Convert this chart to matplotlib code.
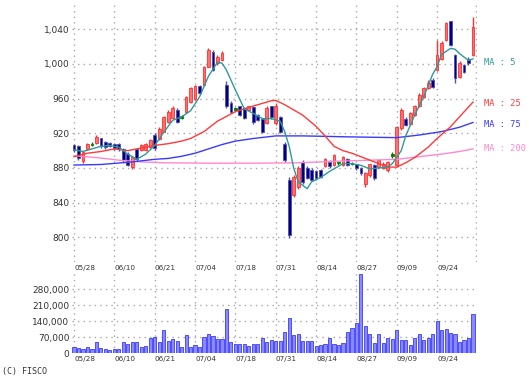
import matplotlib
matplotlib.use("Agg")
import matplotlib.pyplot as plt
import numpy as np

# ---------------- data ----------------
date_labels = ["05/28", "06/10", "06/21", "07/04", "07/18", "07/31", "08/14", "08/27", "09/09", "09/24"]
date_label_idx = [0, 9, 18, 27, 36, 45, 54, 63, 72, 81]

opens = [906, 905, 888, 902, 907, 909, 914, 910, 909, 908,
         908, 902, 896, 881, 902, 901, 901, 904, 918, 914,
         922, 933, 938, 947, 939, 945, 956, 960, 974, 976,
         997, 1014, 1001, 1005, 976, 955, 948, 951, 949, 947,
         950, 941, 936, 932, 951, 932, 939, 908, 866, 849,
         858, 887, 880, 878, 876, 878, 882, 887, 884, 886,
         884, 890, 885, 884, 880, 862, 872, 884, 881, 880,
         878, 895, 884, 926, 937, 931, 941, 951, 962, 972,
         982, 993, 1006, 1028, 1049, 1010, 985, 999, 1006, 1010]
highs = [908, 906, 899, 909, 910, 918, 915, 911, 910, 909,
         909, 903, 898, 894, 903, 908, 909, 913, 920, 927,
         940, 947, 951, 949, 941, 963, 974, 976, 976, 998,
         1018, 1016, 1010, 1015, 980, 957, 950, 952, 950, 952,
         952, 942, 937, 951, 952, 955, 940, 910, 870, 872,
         882, 889, 882, 880, 878, 879, 892, 889, 896, 888,
         894, 891, 887, 885, 881, 875, 885, 885, 890, 887,
         888, 899, 929, 949, 939, 945, 953, 966, 974, 981,
         984, 1028, 1026, 1049, 1050, 1011, 1003, 1000, 1008, 1054]
lows = [899, 889, 886, 901, 905, 908, 903, 902, 904, 901,
        900, 887, 882, 879, 888, 900, 900, 903, 901, 912,
        921, 932, 936, 932, 937, 944, 955, 958, 965, 975,
        996, 992, 999, 1003, 949, 943, 946, 940, 936, 946,
        931, 934, 920, 931, 937, 930, 920, 887, 799, 847,
        856, 862, 867, 865, 866, 868, 881, 880, 882, 884,
        882, 882, 883, 878, 872, 858, 870, 866, 880, 879,
        875, 892, 882, 924, 928, 930, 940, 950, 961, 971,
        972, 992, 1005, 1026, 1021, 978, 984, 990, 999, 1009]
closes = [901, 891, 898, 908, 907, 916, 905, 904, 905, 903,
          902, 889, 884, 893, 890, 907, 908, 912, 903, 925,
          939, 945, 949, 933, 939, 962, 972, 975, 966, 997,
          1016, 993, 1008, 1013, 951, 945, 948, 941, 938, 951,
          933, 935, 922, 949, 939, 952, 922, 889, 803, 870,
          880, 864, 869, 866, 868, 870, 890, 882, 895, 886,
          893, 884, 885, 880, 874, 874, 884, 868, 889, 885,
          887, 895, 927, 947, 930, 943, 951, 964, 972, 978,
          973, 1010, 1024, 1047, 1022, 984, 1001, 991, 1001, 1043]

volumes = [29, 22, 19, 26, 19, 48, 22, 18, 15, 19,
           19, 51, 41, 51, 48, 29, 32, 69, 73, 51,
           102, 55, 63, 55, 26, 82, 26, 38, 29, 70,
           84, 74, 64, 61, 193, 49, 42, 42, 42, 30,
           42, 42, 66, 49, 60, 53, 53, 92, 155, 82,
           85, 55, 55, 52, 30, 35, 42, 68, 42, 35,
           46, 95, 110, 131, 345, 121, 86, 46, 83, 46,
           68, 63, 100, 60, 56, 38, 66, 86, 60, 68,
           83, 143, 100, 107, 90, 86, 49, 56, 68, 172]  # thousands

ma5_idx = [0, 2, 4, 6, 8, 10, 12, 14, 16, 18, 20, 22, 24, 26, 28, 30, 32, 33, 34, 36, 38, 40, 42, 44, 46, 47,
           48, 49, 50, 52, 53, 55, 57, 60, 62, 64, 66, 68, 70, 71, 73, 74, 76, 78, 80, 81, 82, 84, 85, 86, 88, 89]
ma5_val = [901, 899, 902, 905, 906, 904, 896, 890, 896, 906, 921, 935, 939, 946, 962, 986, 1002, 1001, 993, 970,
           948, 943, 937, 937, 934, 922, 905, 880, 864, 856, 864, 869, 876, 885, 885, 883, 879, 880, 881, 885,
           900, 917, 941, 962, 988, 997, 1011, 1018, 1017, 1012, 1004, 1006]

ma25_idx = [0, 3, 6, 9, 12, 15, 18, 21, 24, 26, 29, 32, 36, 40, 44, 45, 47, 49, 51, 54, 56, 58, 60, 62, 65,
            68, 70, 72, 74, 76, 79, 81, 83, 84, 86, 89]
ma25_val = [893, 897, 899, 902, 900, 903, 906, 908, 911, 914, 922, 934, 945, 951.5, 957.5, 958, 953, 947, 941,
            928, 917, 905, 900, 897, 891, 885, 881, 881, 886, 892, 904, 914, 923, 927.6, 939, 956]

ma75_idx = [0, 6, 13, 18, 21, 24, 27, 30, 33, 36, 40, 45, 51, 56, 60, 67, 72, 77, 82, 86, 89]
ma75_val = [883.4, 884, 887, 890, 891, 893.5, 897, 902, 907, 911, 914, 917, 917, 916.5, 916, 915.4, 915,
            918, 922, 927, 932.5]

ma200_idx = [0, 5, 10, 15, 20, 30, 40, 50, 60, 66, 72, 77, 82, 86, 89]
ma200_val = [894, 892, 889, 887, 886, 885.5, 885.5, 886, 888, 889, 890, 893, 896, 899, 902]

price_ticks = [800, 840, 880, 920, 960, 1000, 1040]
vol_ticks = [0, 70000, 140000, 210000, 280000]

# ---------------- figure ----------------
W, H = 529, 378
fig = plt.figure(figsize=(W / 100, H / 100), dpi=100)
fig.patch.set_facecolor("white")

def frac(x0, y_top, x1, y_bot):
    return [x0 / W, 1 - y_bot / H, (x1 - x0) / W, (y_bot - y_top) / H]

ax = fig.add_axes(frac(72, 2, 477, 262))
axv = fig.add_axes(frac(72, 271, 477, 353.3))

xlim = (-0.45, 89.9)
grid_kw = dict(color="#a8a8a8", linestyle=(0, (1, 3)), linewidth=1.0)
tick_color = "#333333"

n = len(opens)
x = np.arange(n)
o = np.array(opens, float)
c = np.array(closes, float)
hi = np.array(highs, float)
lo = np.array(lows, float)

up = c > o
down = c < o
even = c == o

up_face, up_edge = "#ff7070", "#ff3030"
dn_face, dn_edge = "#000080", "#5050b0"
ev_color = "#008000"

for a in (ax, axv):
    a.set_xlim(*xlim)
    for s in a.spines.values():
        s.set_visible(False)
    a.set_axisbelow(True)
    a.grid(True, **grid_kw)
    a.tick_params(length=0, colors=tick_color)

# right border of the price grid
ax.axvline(89.6, zorder=0, **grid_kw)

# wicks
ax.vlines(x[up], lo[up], hi[up], color=up_edge, linewidth=1.0, zorder=2)
ax.vlines(x[down], lo[down], hi[down], color=dn_edge, linewidth=1.0, zorder=2)
ax.vlines(x[even], lo[even], hi[even], color=ev_color, linewidth=1.0, zorder=2)

bw = 0.62
bottoms = np.minimum(o, c)
heights = np.abs(c - o)
ax.bar(x[up], heights[up], bottom=bottoms[up], width=bw, color=up_face, edgecolor=up_edge,
       linewidth=0.6, zorder=3)
ax.bar(x[down], heights[down], bottom=bottoms[down], width=bw, color=dn_face, edgecolor=dn_edge,
       linewidth=0.6, zorder=3)
ax.bar(x[even], np.full(even.sum(), 1.6), bottom=bottoms[even] - 0.8, width=bw, color=ev_color,
       edgecolor=ev_color, linewidth=0.6, zorder=3)

# moving averages
ma_specs = [
    (ma200_idx, ma200_val, "#ff88cc", "MA : 200"),
    (ma75_idx, ma75_val, "#3a3aff", "MA : 75"),
    (ma25_idx, ma25_val, "#ff3a3a", "MA : 25"),
    (ma5_idx, ma5_val, "#2e9a9a", "MA : 5"),
]
for idx, val, col, lab in ma_specs:
    ax.plot(idx, val, color=col, linewidth=1.0, zorder=4)

label_y = {"MA : 5": ma5_val[-1] - 4, "MA : 25": ma25_val[-1] - 2, "MA : 75": ma75_val[-1] - 2,
           "MA : 200": ma200_val[-1] + 1}
for idx, val, col, lab in ma_specs:
    ax.text(91.4, label_y[lab], lab, color=col, fontsize=6.2, family="DejaVu Sans Mono",
            va="center", ha="left", clip_on=False)

ax.set_ylim(771.5, 1071.5)
ax.set_yticks(price_ticks)
ax.set_yticklabels([f"{v:,}" for v in price_ticks], fontsize=6.5)
ax.set_xticks(date_label_idx)
ax.set_xticklabels(date_labels, fontsize=5.2, ha="left")
ax.tick_params(axis="x", pad=2)
ax.tick_params(axis="y", pad=2)

# volume
vols = np.array(volumes, float) * 1000
axv.bar(x, vols, width=0.7, color="#8a8aff", edgecolor="#3a3aff", linewidth=0.6, zorder=3)
axv.set_ylim(0, 360000)
axv.set_yticks(vol_ticks)
axv.set_yticklabels([f"{v:,}" for v in vol_ticks], fontsize=6.5)
axv.set_xticks(date_label_idx)
axv.set_xticklabels(date_labels, fontsize=5.2, ha="left")
axv.tick_params(axis="x", pad=2)
axv.tick_params(axis="y", pad=2)

fig.text(2 / W, 1 - 371.5 / H, "(C) FISCO", fontsize=6.0, family="DejaVu Sans Mono",
         color=tick_color, va="center", ha="left")

fig.savefig("out.png", dpi=100)
